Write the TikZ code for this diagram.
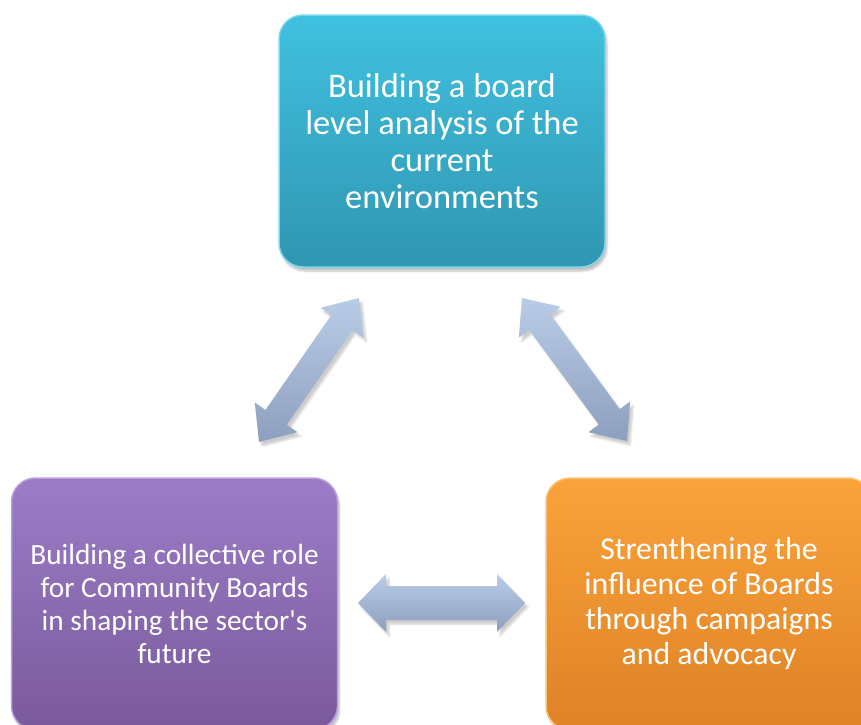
\documentclass[tikz,border=0pt]{standalone}
\usepackage{fontspec}
\setmainfont{Carlito}
\usetikzlibrary{calc,shadows.blur}

\definecolor{cyantop}{HTML}{40C1E0}
\definecolor{cyanbot}{HTML}{3096B1}
\definecolor{cyanrim}{HTML}{7FD6EC}
\definecolor{purpletop}{HTML}{9C7CC7}
\definecolor{purplebot}{HTML}{7A5A9B}
\definecolor{purplerim}{HTML}{B9A0DC}
\definecolor{orangetop}{HTML}{FAA33B}
\definecolor{orangebot}{HTML}{DE8226}
\definecolor{orangerim}{HTML}{FBC07A}
\definecolor{linktop}{HTML}{B9CCE7}
\definecolor{linkbot}{HTML}{8D9FBE}

\tikzset{
  stagebox/.style={rounded corners=24pt, minimum width=326pt, minimum height=252pt,
    align=center, text=white, line width=1.5pt,
    blur shadow={shadow xshift=2pt, shadow yshift=-4pt, shadow blur steps=6, shadow opacity=25}},
  linkarrow/.style={top color=linktop, bottom color=linkbot, draw=none,
    blur shadow={shadow xshift=3pt, shadow yshift=-4pt, shadow blur steps=5, shadow opacity=20}}
}

% block arrow with a head at each end: start, end, half shaft, half head, head length
\newcommand{\linkarrow}[5]{%
  \shade[linkarrow]
    (#1)
    -- ($(#1)!#5!(#2)!#4!90:(#2)$)
    -- ($(#1)!#5!(#2)!#3!90:(#2)$)
    -- ($(#2)!#5!(#1)!#3!-90:(#1)$)
    -- ($(#2)!#5!(#1)!#4!-90:(#1)$)
    -- (#2)
    -- ($(#2)!#5!(#1)!#4!90:(#1)$)
    -- ($(#2)!#5!(#1)!#3!90:(#1)$)
    -- ($(#1)!#5!(#2)!#3!-90:(#2)$)
    -- ($(#1)!#5!(#2)!#4!-90:(#2)$)
    -- cycle;}

\begin{document}
\begin{tikzpicture}[x=1pt, y=-1pt]
  \useasboundingbox (0,0) rectangle (861,724);
  \clip (0,0) rectangle (861,724);

  % the three stages
  \node[stagebox, top color=cyantop, bottom color=cyanbot, draw=cyanrim,
    font=\fontsize{34.5}{37}\selectfont] (analysis) at (442,141)
    {Building a board\\level analysis of the\\current\\environments};
  \node[stagebox, top color=purpletop, bottom color=purplebot, draw=purplerim,
    font=\fontsize{29.3}{33}\selectfont] (collective) at (174.5,604)
    {Building a collective role\\for Community Boards\\in shaping the sector\textquotesingle s\\future};
  \node[stagebox, top color=orangetop, bottom color=orangebot, draw=orangerim,
    font=\fontsize{31.8}{35}\selectfont] (influence) at (709,604)
    {Strenthening the\\influence of Boards\\through campaigns\\and advocacy};

  % arrow ends
  \coordinate (lt) at (359,298);
  \coordinate (lb) at (259,442);
  \coordinate (rt) at (522,298);
  \coordinate (rb) at (627,441);
  \coordinate (ml) at (358,603);
  \coordinate (mr) at (525,603);

  % links between the stages
  \linkarrow{lb}{lt}{13pt}{26pt}{30pt}
  \linkarrow{rt}{rb}{13pt}{26pt}{30pt}
  \linkarrow{ml}{mr}{17pt}{29pt}{28pt}
\end{tikzpicture}
\end{document}
